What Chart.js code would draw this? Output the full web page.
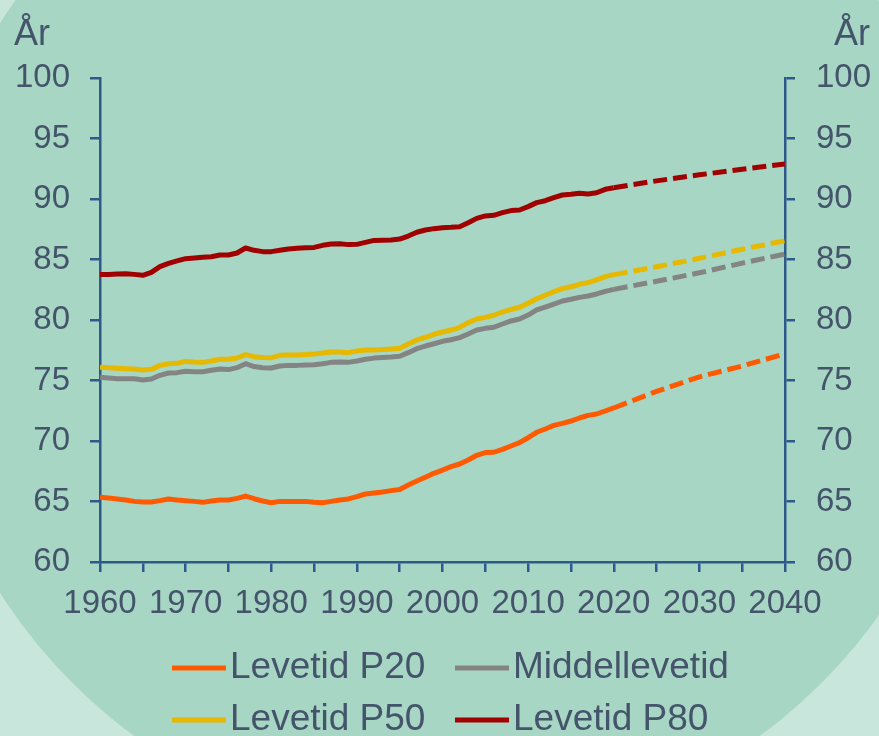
<!DOCTYPE html>
<html lang="no">
<head>
<meta charset="utf-8">
<title>Levetid</title>
<script src="https://cdn.jsdelivr.net/npm/chart.js@4.4.1/dist/chart.umd.min.js"></script>
<style>
    html, body { margin: 0; padding: 0; background: #c8e6db; }
    #wrap { position: relative; width: 879px; height: 736px; }
</style>
</head>
<body>
<div id="wrap"><canvas id="levetid" width="879" height="736"></canvas></div>
<script>
// ── DATA ──────────────────────────────────────
const aar = [
    1960, 1961, 1962, 1963, 1964, 1965, 1966, 1967, 1968, 1969,
    1970, 1971, 1972, 1973, 1974, 1975, 1976, 1977, 1978, 1979,
    1980, 1981, 1982, 1983, 1984, 1985, 1986, 1987, 1988, 1989,
    1990, 1991, 1992, 1993, 1994, 1995, 1996, 1997, 1998, 1999,
    2000, 2001, 2002, 2003, 2004, 2005, 2006, 2007, 2008, 2009,
    2010, 2011, 2012, 2013, 2014, 2015, 2016, 2017, 2018, 2019,
    2020
];
const prognoseAar = [2020, 2025, 2030, 2035, 2040];

const levetidP20 = [
    65.35, 65.28, 65.21, 65.12, 65.01, 64.96, 64.96, 65.07, 65.21, 65.12,
    65.07, 65.01, 64.93, 65.04, 65.12, 65.12, 65.26, 65.45, 65.23, 65.04,
    64.90, 65.01, 65.01, 65.01, 65.01, 64.93, 64.90, 65.01, 65.12, 65.21,
    65.40, 65.62, 65.70, 65.79, 65.90, 66.00, 66.36, 66.69, 67.00, 67.33,
    67.60, 67.88, 68.10, 68.43, 68.82, 69.04, 69.07, 69.31, 69.59, 69.86,
    70.27, 70.72, 70.99, 71.29, 71.46, 71.65, 71.90, 72.12, 72.23, 72.48,
    72.73
];
const middellevetid = [
    75.26, 75.20, 75.15, 75.15, 75.15, 75.04, 75.12, 75.43, 75.62, 75.65,
    75.76, 75.73, 75.73, 75.84, 75.95, 75.90, 76.06, 76.39, 76.15, 76.06,
    76.03, 76.20, 76.25, 76.25, 76.28, 76.31, 76.39, 76.50, 76.53, 76.50,
    76.61, 76.75, 76.85, 76.91, 76.94, 77.00, 77.30, 77.63, 77.85, 78.04,
    78.24, 78.37, 78.54, 78.84, 79.17, 79.31, 79.40, 79.67, 79.92, 80.08,
    80.41, 80.83, 81.07, 81.32, 81.57, 81.71, 81.87, 81.98, 82.15, 82.37,
    82.53
];
const levetidP50 = [
    76.09, 76.05, 76.01, 75.98, 75.95, 75.87, 75.92, 76.25, 76.39, 76.42,
    76.58, 76.53, 76.50, 76.61, 76.75, 76.75, 76.86, 77.14, 76.97, 76.91,
    76.89, 77.08, 77.11, 77.11, 77.14, 77.19, 77.27, 77.36, 77.36, 77.30,
    77.44, 77.52, 77.52, 77.57, 77.60, 77.66, 78.02, 78.35, 78.57, 78.82,
    79.01, 79.17, 79.40, 79.78, 80.08, 80.22, 80.39, 80.66, 80.88, 81.05,
    81.38, 81.76, 82.04, 82.34, 82.59, 82.75, 82.95, 83.09, 83.31, 83.58,
    83.75
];
const levetidP80 = [
    83.77, 83.77, 83.80, 83.83, 83.77, 83.69, 83.94, 84.41, 84.68, 84.88,
    85.07, 85.12, 85.18, 85.23, 85.37, 85.37, 85.54, 85.95, 85.76, 85.65,
    85.65, 85.76, 85.87, 85.92, 85.98, 86.00, 86.17, 86.28, 86.31, 86.23,
    86.25, 86.42, 86.58, 86.59, 86.61, 86.69, 86.94, 87.25, 87.44, 87.55,
    87.63, 87.66, 87.71, 88.04, 88.40, 88.60, 88.65, 88.87, 89.04, 89.09,
    89.37, 89.70, 89.86, 90.11, 90.33, 90.39, 90.47, 90.41, 90.52, 90.80,
    90.93
];

// prognoser (stiplet)
const prognoseP20 = [72.73, 74.10, 75.30, 76.20, 77.20];
const prognoseMiddel = [82.53, 83.20, 83.90, 84.70, 85.45];
const prognoseP50 = [83.75, 84.40, 85.10, 85.85, 86.55];
const prognoseP80 = [90.93, 91.50, 92.00, 92.45, 92.90];

const serieNavn = ['Levetid P20', 'Middellevetid', 'Levetid P50', 'Levetid P80'];
const serieFarger = ['#ff5a00', '#848484', '#e6b800', '#a00000'];

const yTicks = [60, 65, 70, 75, 80, 85, 90, 95, 100];

// ── STIL ──────────────────────────────────────
const FONT = "'Liberation Sans', Arial, sans-serif";
const TEKST = '#44546a';
const AKSE = '#2d5a8a';

const tilPunkter = (xs, ys) => xs.map((x, i) => ({ x: x, y: ys[i] }));

const historikk = [levetidP20, middellevetid, levetidP50, levetidP80];
const prognoser = [prognoseP20, prognoseMiddel, prognoseP50, prognoseP80];

const datasets = [];
historikk.forEach((serie, i) => {
    datasets.push({
        label: serieNavn[i],
        data: tilPunkter(aar, serie),
        borderColor: serieFarger[i],
        backgroundColor: serieFarger[i],
        borderWidth: 5,
        pointRadius: 0,
        borderJoinStyle: 'round',
        tension: 0,
    });
});
prognoser.forEach((serie, i) => {
    datasets.push({
        label: serieNavn[i] + ' prognose',
        data: tilPunkter(prognoseAar, serie),
        borderColor: serieFarger[i],
        backgroundColor: serieFarger[i],
        borderWidth: 5,
        borderDash: [14, 6],
        pointRadius: 0,
        tension: 0,
    });
});

// ── BAKGRUNN, AKSETITLER OG FORKLARING ────────
const pynt = {
    id: 'pynt',
    beforeDraw(chart) {
        const ctx = chart.ctx;
        ctx.save();
        ctx.fillStyle = '#c8e6db';
        ctx.fillRect(0, 0, chart.width, chart.height);
        ctx.fillStyle = '#a8d6c4';
        ctx.beginPath();
        ctx.arc(447, 308, 530, 0, Math.PI * 2);
        ctx.fill();
        ctx.restore();
    },
    afterDraw(chart) {
        const ctx = chart.ctx;
        const area = chart.chartArea;
        ctx.save();
        ctx.fillStyle = TEKST;
        ctx.font = '36px ' + FONT;
        ctx.textBaseline = 'alphabetic';
        ctx.textAlign = 'left';
        ctx.fillText('År', area.left - 86, 45);
        ctx.textAlign = 'right';
        ctx.fillText('År', area.right + 85, 45);

        // forklaring i to kolonner
        ctx.font = '37px ' + FONT;
        ctx.textAlign = 'left';
        ctx.textBaseline = 'middle';
        serieNavn.forEach((navn, i) => {
            const kol = i % 2;
            const rad = Math.floor(i / 2);
            const x = area.left + 72 + kol * 283;
            const y = area.bottom + 106 + rad * 52;
            ctx.strokeStyle = serieFarger[i];
            ctx.lineWidth = 5;
            ctx.beginPath();
            ctx.moveTo(x, y);
            ctx.lineTo(x + 54, y);
            ctx.stroke();
            ctx.fillText(navn, x + 58, y);
        });
        ctx.restore();
    }
};

const yAkse = (pos, bredde) => ({
    type: 'linear',
    position: pos,
    min: 60,
    max: 100,
    afterBuildTicks: (scale) => { scale.ticks = yTicks.map(v => ({ value: v })); },
    afterFit: (scale) => { scale.width = bredde; },
    grid: { drawOnChartArea: false, drawTicks: true, tickLength: 10, color: AKSE, lineWidth: 2.5 },
    border: { display: true, color: AKSE, width: 2.5 },
    ticks: { color: TEKST, font: { family: FONT, size: 33 }, padding: pos === 'left' ? 20 : 21 },
});

new Chart(document.getElementById('levetid'), {
    type: 'line',
    data: { datasets: datasets },
    options: {
        responsive: false,
        animation: false,
        layout: { padding: { top: 78, left: 0, right: 0, bottom: 0 } },
        plugins: {
            legend: { display: false },
            tooltip: { enabled: false },
        },
        scales: {
            x: {
                type: 'linear',
                min: 1960,
                max: 2040,
                afterFit: (scale) => { scale.height = 174; },
                grid: { drawOnChartArea: false, drawTicks: true, tickLength: 10, color: AKSE, lineWidth: 2.5 },
                border: { display: true, color: AKSE, width: 2.5 },
                ticks: {
                    stepSize: 5,
                    autoSkip: false,
                    maxRotation: 0,
                    padding: 12,
                    color: TEKST,
                    font: { family: FONT, size: 33 },
                    callback: (v) => (v % 10 === 0 ? String(v) : ''),
                },
            },
            y: yAkse('left', 100),
            y2: yAkse('right', 94),
        },
    },
    plugins: [pynt],
});
</script>
</body>
</html>
